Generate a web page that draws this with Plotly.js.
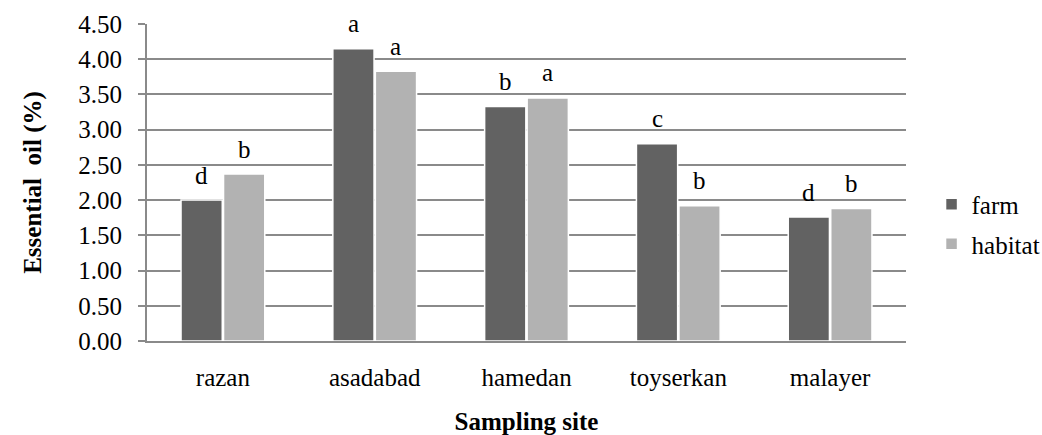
<!DOCTYPE html>
<html>
<head>
<meta charset="utf-8">
<script src="https://cdn.plot.ly/plotly-3.0.1.min.js"></script>
<style>html,body{margin:0;padding:0;background:#fff;}#chart{width:1042px;height:435px;}</style>
</head>
<body>
<div id="chart"></div>
<script>
const sites = ["razan", "asadabad", "hamedan", "toyserkan", "malayer"];
const farm = [2.00, 4.15, 3.33, 2.80, 1.76];
const habitat = [2.37, 3.83, 3.45, 1.92, 1.88];
const farmLetters = ["d", "a", "b", "c", "d"];
const habitatLetters = ["b", "a", "a", "b", "b"];
const yTicks = [0, 0.5, 1, 1.5, 2, 2.5, 3, 3.5, 4, 4.5];

const FONT = "'Liberation Serif', 'Times New Roman', serif";
const plotL = 147, plotR = 906;
const catW = (plotR - plotL) / sites.length;
const bargap = 0.44;
const slot = catW * (1 - bargap) / 2;

const traces = [
  {type: "bar", name: "farm", x: sites, y: farm, legendgroup: "f",
   marker: {color: "#626262", line: {color: "#ffffff", width: 1.5}}},
  {type: "bar", name: "habitat", x: sites, y: habitat, legendgroup: "h",
   marker: {color: "#b2b2b2", line: {color: "#ffffff", width: 1.5}}}
];

const annotations = [];
sites.forEach((s, i) => {
  annotations.push({x: s, y: farm[i], text: farmLetters[i], showarrow: false,
    xshift: -slot / 2, yshift: 25, yanchor: "middle", font: {family: FONT, size: 25, color: "#000"}});
  annotations.push({x: s, y: habitat[i], text: habitatLetters[i], showarrow: false,
    xshift: slot / 2, yshift: 25, yanchor: "middle", font: {family: FONT, size: 25, color: "#000"}});
});

const layout = {
  width: 1042, height: 435,
  margin: {l: plotL, r: 1042 - plotR, t: 24, b: 94, autoexpand: false},
  paper_bgcolor: "#fff", plot_bgcolor: "#fff",
  font: {family: FONT, size: 25, color: "#000"},
  barmode: "group", bargap: bargap, bargroupgap: 0.03,
  showlegend: true,
  legend: {xref: "container", yref: "container", x: 0.894, y: 0.485, xanchor: "left", yanchor: "middle",
    font: {family: FONT, size: 25, color: "#000"}, itemwidth: 30, tracegroupgap: 4,
    traceorder: "grouped", bgcolor: "rgba(0,0,0,0)"},
  xaxis: {type: "category", showline: true, linecolor: "#8a8a8a", linewidth: 2,
    ticks: "", showgrid: false, ticklabelstandoff: 13,
    tickfont: {family: FONT, size: 25, color: "#000"},
    title: {text: "<b>Sampling site</b>", standoff: 36, font: {family: FONT, size: 25, color: "#000"}}},
  yaxis: {range: [0, 4.5], tickvals: yTicks, ticktext: yTicks.map(v => v.toFixed(2)),
    showline: true, linecolor: "#8a8a8a", linewidth: 2,
    ticks: "outside", ticklen: 7, tickcolor: "#8a8a8a", tickwidth: 2,
    showgrid: true, gridcolor: "#8a8a8a", gridwidth: 2, zeroline: false,
    ticklabelstandoff: 11,
    tickfont: {family: FONT, size: 25, color: "#000"},
    title: {text: "<b>Essential  oil (%)</b>", standoff: 30, font: {family: FONT, size: 25, color: "#000"}}},
  annotations: annotations
};

Plotly.newPlot("chart", traces, layout, {displayModeBar: false, staticPlot: true});
</script>
</body>
</html>
